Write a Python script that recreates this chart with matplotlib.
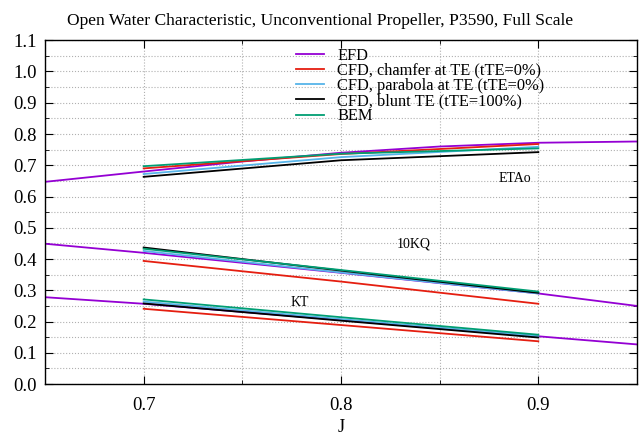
import matplotlib
matplotlib.use('Agg')
import matplotlib.pyplot as plt
from matplotlib.ticker import MultipleLocator

# 数据
j_efd = [0.65, 0.70, 0.75, 0.80, 0.85, 0.90, 0.95]
eta_efd = [0.647, 0.680, 0.712, 0.740, 0.760, 0.772, 0.776]
kq_efd = [0.449, 0.420, 0.388, 0.356, 0.323, 0.290, 0.250]
kt_efd = [0.278, 0.257, 0.231, 0.205, 0.179, 0.153, 0.127]

j_cfd = [0.70, 0.80, 0.90]
eta_chamfer = [0.690, 0.736, 0.768]
eta_parabola = [0.672, 0.726, 0.759]
eta_blunt = [0.663, 0.716, 0.742]
eta_bem = [0.697, 0.737, 0.754]

kq_chamfer = [0.394, 0.328, 0.257]
kq_parabola = [0.426, 0.357, 0.290]
kq_blunt = [0.437, 0.363, 0.292]
kq_bem = [0.433, 0.365, 0.296]

kt_chamfer = [0.241, 0.189, 0.137]
kt_parabola = [0.264, 0.208, 0.153]
kt_blunt = [0.258, 0.203, 0.149]
kt_bem = [0.271, 0.214, 0.158]

plt.rcParams['font.family'] = ['Liberation Serif', 'DejaVu Serif']

fig = plt.figure(figsize=(6.4, 4.37), dpi=100)
ax = fig.add_axes([0.0703, 0.121, 0.925, 0.787])

c_efd = '#9400d3'
c_chamfer = '#e51e10'
c_parabola = '#56b4e9'
c_blunt = '#000000'
c_bem = '#009e73'
lw = 1.3

ax.plot(j_efd, eta_efd, color=c_efd, lw=lw, label='EFD')
ax.plot(j_cfd, eta_chamfer, color=c_chamfer, lw=lw, label='CFD, chamfer at TE (tTE=0%)')
ax.plot(j_cfd, eta_parabola, color=c_parabola, lw=lw, label='CFD, parabola at TE (tTE=0%)')
ax.plot(j_cfd, eta_blunt, color=c_blunt, lw=lw, label='CFD, blunt TE (tTE=100%)')
ax.plot(j_cfd, eta_bem, color=c_bem, lw=lw, label='BEM')

for efd, ch, pa, bl, be in [(kq_efd, kq_chamfer, kq_parabola, kq_blunt, kq_bem),
                            (kt_efd, kt_chamfer, kt_parabola, kt_blunt, kt_bem)]:
    ax.plot(j_efd, efd, color=c_efd, lw=lw)
    ax.plot(j_cfd, ch, color=c_chamfer, lw=lw)
    ax.plot(j_cfd, pa, color=c_parabola, lw=lw)
    ax.plot(j_cfd, bl, color=c_blunt, lw=lw)
    ax.plot(j_cfd, be, color=c_bem, lw=lw)

ax.text(0.888, 0.657, 'ETAo', fontsize=10, ha='center', va='center')
ax.text(0.837, 0.448, '10KQ', fontsize=10, ha='center', va='center')
ax.text(0.779, 0.261, 'KT', fontsize=10, ha='center', va='center')

ax.set_xlim(0.65, 0.95)
ax.set_ylim(0.0, 1.1)
ax.xaxis.set_major_locator(MultipleLocator(0.1))
ax.xaxis.set_minor_locator(MultipleLocator(0.05))
ax.yaxis.set_major_locator(MultipleLocator(0.1))
ax.yaxis.set_minor_locator(MultipleLocator(0.05))
ax.yaxis.set_major_formatter(matplotlib.ticker.FormatStrFormatter('%.1f'))

ax.tick_params(which='both', direction='in', top=True, right=True, labelsize=13.5)
ax.tick_params(which='major', length=6)
ax.tick_params(which='minor', length=3)
ax.tick_params(axis='x', pad=9)
ax.tick_params(axis='y', pad=6)
ax.grid(True, which='both', color='#b0b0b0', linestyle=':', linewidth=0.8)
for s in ax.spines.values():
    s.set_linewidth(1.0)

ax.set_xlabel('J', fontsize=13, labelpad=4)
# 标题居中于整个画布
ax.set_title('Open Water Characteristic, Unconventional Propeller, P3590, Full Scale',
             fontsize=12.6, pad=11, x=0.4645)

ax.legend(loc='upper left', bbox_to_anchor=(0.405, 1.012), frameon=False,
          fontsize=11.8, handlelength=1.7, handletextpad=0.8,
          labelspacing=-0.05, borderpad=0.2)

fig.savefig('out.png', dpi=100, facecolor='white')
